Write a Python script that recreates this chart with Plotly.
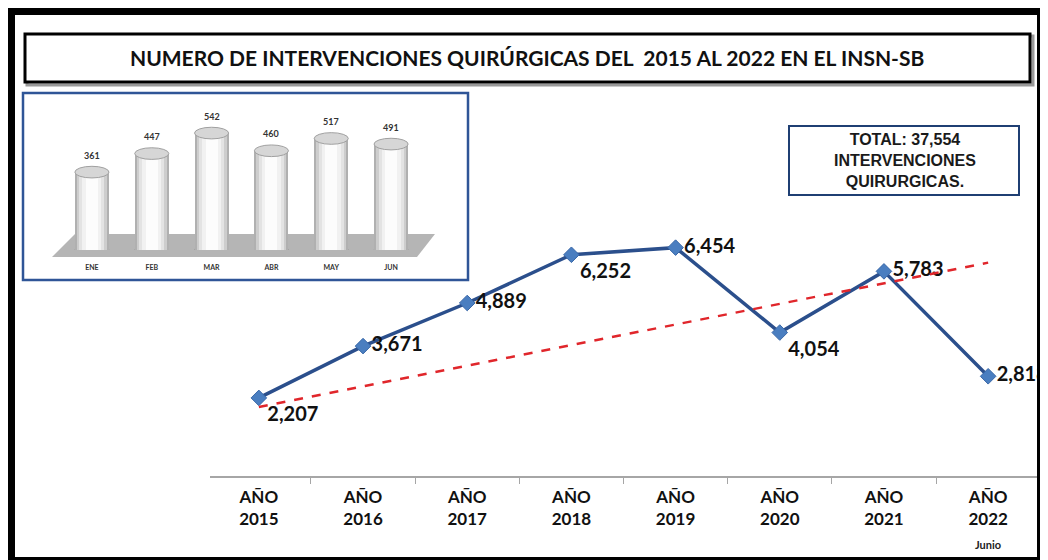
import plotly.graph_objects as go

# data
years = ['AÑO<br>2015', 'AÑO<br>2016', 'AÑO<br>2017', 'AÑO<br>2018',
         'AÑO<br>2019', 'AÑO<br>2020', 'AÑO<br>2021', 'AÑO<br>2022']
interventions = [2207, 3671, 4889, 6252, 6454, 4054, 5783, 2818]
label_pos = ['bottom right', 'middle right', 'middle right', 'bottom right',
             'middle right', 'bottom right', 'middle right', 'middle right']
trend_x = [years[0], years[-1]]
trend_y = [1950, 6030]

months = ['ENE', 'FEB', 'MAR', 'ABR', 'MAY', 'JUN']
month_values = [361, 447, 542, 460, 517, 491]

title_text = 'NUMERO DE INTERVENCIONES QUIRÚRGICAS DEL  2015 AL 2022 EN EL INSN-SB'
total_text = 'TOTAL: 37,554<br>INTERVENCIONES<br>QUIRURGICAS.'

# the page body adds an 8px margin, so the figure is laid out 8px smaller
OFF = 8
FIG_W, FIG_H = 1048 - OFF, 560 - OFF
# plot area in figure pixels
L, T, W, H = 20 - OFF, 30 - OFF, 1017, 446


def px(x):
    # screen x (as in the reference) -> paper fraction
    return (x - OFF - L) / W


def py(y):
    return (T + H - (y - OFF)) / H


fig = go.Figure()

fig.add_trace(go.Scatter(
    x=years, y=interventions,
    mode='lines+markers+text',
    text=[f'{v:,}' for v in interventions],
    textposition=label_pos,
    textfont=dict(family='Lato', size=20, color='#111111', weight='bold'),
    line=dict(color='#2b4f8c', width=3.5),
    marker=dict(symbol='diamond', size=12, color='#4a7ec0',
                line=dict(color='#3a68a8', width=1)),
    cliponaxis=False,
    xaxis='x', yaxis='y',
))

fig.add_trace(go.Scatter(
    x=trend_x, y=trend_y, mode='lines',
    line=dict(color='#e0262b', width=2.5, dash='dash'),
    xaxis='x', yaxis='y',
))

# inset: monthly values 2022 drawn as shaded cylinders
shades = [(0.57, '#b0b0b0'), (0.5, '#cdcdcd'), (0.42, '#e3e3e3'),
          (0.32, '#f1f1f1'), (0.2, '#fcfcfc')]
for w, c in shades:
    fig.add_trace(go.Bar(
        x=months, y=month_values, width=w,
        marker=dict(color=c, line=dict(width=0)),
        xaxis='x2', yaxis='y2', hoverinfo='skip',
    ))

shapes = []
annotations = []

# floor of the inset
shapes.append(dict(type='path', xref='paper', yref='paper', layer='below',
                   path=f'M {px(75)} {py(234)} L {px(435)} {py(234)} '
                        f'L {px(417)} {py(257)} L {px(52)} {py(257)} Z',
                   fillcolor='#b5b5b5', line=dict(width=0)))

for i, v in enumerate(month_values):
    shapes.append(dict(type='circle', xref='x2', yref='y2', layer='below',
                       x0=i - 0.285, x1=i + 0.285, y0=-24, y1=24,
                       fillcolor='#c4c4c4', line=dict(color='#9a9a9a', width=1)))
    shapes.append(dict(type='circle', xref='x2', yref='y2',
                       x0=i - 0.285, x1=i + 0.285, y0=v - 27, y1=v + 27,
                       fillcolor='#d6d6d6', line=dict(color='#a0a0a0', width=1)))
    annotations.append(dict(x=i, y=v, xref='x2', yref='y2', yshift=17,
                            text=f'{v}', showarrow=False,
                            font=dict(family='Lato', size=9, color='#333333', weight='bold')))

# inset frame
shapes.append(dict(type='rect', xref='paper', yref='paper',
                   x0=px(23), x1=px(468), y0=py(93), y1=py(280),
                   line=dict(color='#2f5597', width=2.5)))

# title box with shadow
shapes.append(dict(type='rect', xref='paper', yref='paper',
                   x0=px(27), x1=px(1033), y0=py(36), y1=py(85),
                   line=dict(color='#9a9a9a', width=3)))
shapes.append(dict(type='rect', xref='paper', yref='paper',
                   x0=px(25), x1=px(1030), y0=py(34), y1=py(82),
                   fillcolor='white', line=dict(color='black', width=3)))
annotations.append(dict(x=px(527), y=py(58), xref='paper', yref='paper',
                        xanchor='center', yanchor='middle',
                        text=title_text, showarrow=False,
                        font=dict(family='Lato', size=21, color='#111111', weight='bold')))

# total box
shapes.append(dict(type='rect', xref='paper', yref='paper',
                   x0=px(789), x1=px(1019), y0=py(126), y1=py(195),
                   line=dict(color='#1f3f73', width=2)))
annotations.append(dict(x=px(905), y=py(161), xref='paper', yref='paper',
                        xanchor='center', yanchor='middle',
                        text=total_text, showarrow=False,
                        font=dict(family='Liberation Sans', size=16, color='#1a1a1a', weight='bold')))

annotations.append(dict(x=years[-1], y=py(544), xref='x', yref='paper',
                        xanchor='center', yanchor='middle',
                        text='Junio', showarrow=False,
                        font=dict(family='Lato', size=11, color='#222222', weight='bold')))

# outer frame
shapes.append(dict(type='rect', xref='paper', yref='paper',
                   x0=px(11), x1=px(1041), y0=py(11), y1=py(561),
                   line=dict(color='black', width=8)))

fig.update_layout(
    width=FIG_W, height=FIG_H,
    margin=dict(l=L, r=FIG_W - L - W, t=T, b=FIG_H - T - H),
    paper_bgcolor='white', plot_bgcolor='rgba(0,0,0,0)',
    showlegend=False,
    barmode='overlay', bargap=0,
    shapes=shapes, annotations=annotations,
    xaxis=dict(domain=[px(210), 1], type='category', showgrid=False,
               showline=True, linecolor='#a6a6a6', linewidth=1.5,
               ticks='outside', tickson='boundaries', ticklen=6, tickcolor='#a6a6a6',
               ticklabelstandoff=5,
               tickfont=dict(family='Lato', size=17, color='#111111', weight='bold')),
    yaxis=dict(domain=[0, py(200)], range=[0, 7800], visible=False),
    xaxis2=dict(domain=[px(62), px(421)], anchor='y2', type='category',
                showgrid=False, showline=False, ticks='',
                ticklabelstandoff=12,
                tickfont=dict(family='Lato', size=7, color='#333333', weight='bold')),
    yaxis2=dict(domain=[py(250), py(99)], range=[0, 700], visible=False, anchor='x2'),
)

fig.write_html('out.html')
